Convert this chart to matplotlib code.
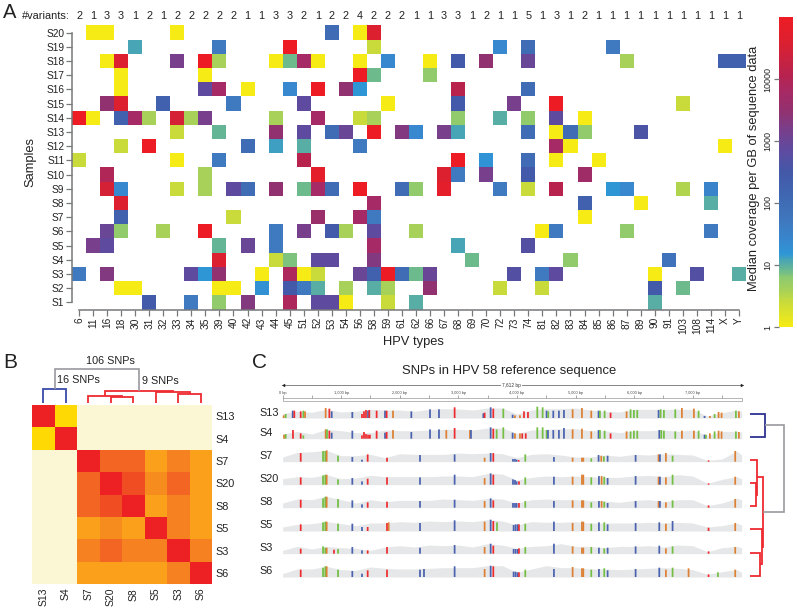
import numpy as np
import matplotlib
matplotlib.use('Agg')
import matplotlib.pyplot as plt
from matplotlib.colors import LinearSegmentedColormap, LogNorm

plt.rcParams['font.family'] = ['Liberation Sans', 'DejaVu Sans']
W, H = 797, 609

# ---------- Panel A data ----------
hpv_types = ['6','11','16','18','30','31','32','33','34','35','39','40','42','43','44','45','51','52','53','54','56','58',
             '59','61','62','66','67','68','69','70','72','73','74','81','82','83','84','85','86','87','89','90','91',
             '103','108','114','X','Y']
n_variants = [2,1,3,3,1,2,1,2,2,2,2,2,1,1,3,3,2,1,2,2,4,2,2,2,1,1,3,3,1,2,1,1,5,1,3,1,2,1,1,1,1,1,1,1,1,1,1,1]
samples = ['S1','S2','S3','S4','S5','S6','S7','S8','S9','S10','S11','S12','S13','S14','S15','S16','S17','S18','S19','S20']
# (index into hpv_types, median coverage)
S20 = [(1,1),(2,1),(7,1),(18,100),(20,1),(21,40000)]
S19 = [(4,12),(10,50),(15,100000),(21,2.5),(30,25),(32,100),(38,50)]
S18 = [(2,1),(3,40000),(7,1500),(9,100000),(10,4),(14,1),(15,8),(16,6000),(17,1),(20,1),(22,25),(25,1),(27,300),(29,3000),(32,1000),(39,4),(46,200),(47,200)]
S17 = [(3,1),(9,1),(20,100000),(21,8),(25,6)]
S16 = [(3,1),(9,700),(10,6000),(12,1),(15,25),(17,100000),(19,3000),(20,15),(27,12000),(32,100)]
S15 = [(2,3000),(3,40000),(6,200),(11,50),(16,700),(22,1),(27,300),(31,1500),(34,100000),(43,2.5)]
S14 = [(0,100000),(1,1),(3,200),(4,6000),(5,4),(7,30000),(8,4),(9,1500),(14,4),(17,6000),(20,2.5),(21,4),(27,6),(30,10),(32,6),(34,700),(36,1)]
S13 = [(7,2.5),(10,9),(14,3000),(16,700),(18,100),(19,1000),(21,100000),(23,2000),(24,25),(26,1500),(27,12),(32,100),(34,1),(35,100),(36,6),(40,400)]
S12 = [(3,2.5),(5,100000),(12,100),(14,13),(16,10),(20,50),(34,6000),(35,1),(46,1)]
S11 = [(0,2.5),(7,1),(10,50),(16,12000),(27,100000),(29,17),(32,100),(34,1),(37,1)]
S10 = [(2,9000),(9,4),(17,60000),(26,40000),(27,50),(29,1500),(32,300),(36,5000)]
S9 = [(2,30000),(3,25),(7,2.5),(9,4),(11,700),(12,100),(14,3000),(16,8),(17,6000),(18,100),(20,100000),(23,100),(24,6),(26,60000),(30,50),(32,2.5),(34,12000),(38,15),(39,25),(43,3.5),(45,30)]
S8 = [(3,40000),(21,6000),(36,200),(40,1),(45,10)]
S7 = [(3,200),(11,2.5),(17,4000),(20,6000),(21,50),(36,1)]
S6 = [(2,1000),(3,6),(6,4),(9,100000),(14,50),(16,1500),(18,300),(19,4),(21,700),(24,4),(33,1),(34,50),(39,6),(45,50)]
S5 = [(1,1500),(2,700),(10,9),(12,1000),(14,50),(21,6000),(27,12),(32,500)]
S4 = [(10,40000),(14,2.5),(15,7),(17,700),(18,700),(21,2000),(28,8),(35,6),(42,70)]
S3 = [(0,50),(2,2000),(8,700),(9,15),(10,3000),(13,1),(15,8000),(16,1),(17,2.5),(20,1000),(21,200),(22,100000),(23,100),(24,8),(25,1000),(31,500),(33,50),(34,700),(41,1),(44,500),(47,10)]
S2 = [(3,1),(4,1),(10,1),(11,1),(13,18),(15,300),(16,50),(17,10),(19,4),(21,10),(22,4),(25,3000),(30,2.5),(33,2.5),(41,300),(43,8)]
S1 = [(5,300),(8,50),(10,6),(12,2000),(15,8000),(17,700),(18,700),(19,1),(22,2.5),(24,10),(41,10)]
cells_by_sample = [S1,S2,S3,S4,S5,S6,S7,S8,S9,S10,S11,S12,S13,S14,S15,S16,S17,S18,S19,S20]

# ---------- Panel B data ----------
order_b = ['S13','S4','S7','S20','S8','S5','S3','S6']
similarity = [
    [1.00,0.30,0,0,0,0,0,0],
    [0.30,1.00,0,0,0,0,0,0],
    [0,0,1.00,0.80,0.80,0.55,0.70,0.55],
    [0,0,0.80,1.00,0.88,0.65,0.80,0.55],
    [0,0,0.80,0.88,1.00,0.55,0.70,0.55],
    [0,0,0.55,0.65,0.55,1.00,0.70,0.55],
    [0,0,0.70,0.80,0.70,0.70,1.00,0.70],
    [0,0,0.55,0.55,0.55,0.55,0.70,1.00]]
# dendrogram trees: (left, right, merge height, colour)
BLUE, RED, GREY = '#3A4BA8', '#EE2A30', '#9A9A9E'
tree_b = ((0,1,13.7,BLUE),
          ((2,(3,4,5.7,RED),7.3,RED),(5,(6,7,8.7,RED),10.7,RED),12.3,RED),
          34,GREY)
tree_c = ((0,1,15,'#2E3192'),
          ((2,(3,4,6,RED),7.3,RED),(5,(6,7,9.7,RED),12,RED),13.3,RED),
          34,GREY)

# ---------- Panel C data ----------
ruler_ticks = [1000,2000,3000,4000,5000,6000,7000]
cov_bp = [0,250,500,750,1000,1250,1500,1750,2000,2250,2500,2750,3000,3250,3500,3750,4000,4250,4500,4750,5000,5250,5500,5750,6000,6250,6500,6750,7000,7250,7500,7750,7834]
cov = {
 'S13':[14,20,17,26,18,20,26,24,24,20,26,28,27,24,30,30,12,24,28,28,30,24,20,18,26,26,26,26,26,6,16,24,20],
 'S4': [14,22,14,28,24,18,18,26,24,24,26,28,28,26,32,32,16,26,28,30,30,24,24,18,24,24,26,22,26,10,22,22,20],
 'S7': [14,28,30,34,18,18,22,12,24,22,22,22,26,24,26,24,12,22,24,20,14,14,20,16,22,20,24,22,20,4,8,32,20],
 'S20':[18,24,22,30,18,20,28,24,24,24,24,26,26,24,34,32,14,22,26,24,26,24,22,22,26,28,24,30,26,4,16,24,18],
 'S8': [14,26,24,34,24,14,24,18,22,22,22,26,24,22,28,26,14,24,26,24,24,22,20,16,22,24,18,24,24,6,14,28,24],
 'S5': [12,20,22,28,22,16,24,24,28,26,30,28,30,28,34,30,18,28,26,26,28,24,24,24,24,26,24,26,24,12,16,24,18],
 'S3': [10,22,14,22,18,16,10,20,24,20,26,24,26,20,30,26,16,22,24,30,22,22,18,22,22,24,20,26,24,6,18,22,18],
 'S6': [10,24,24,32,22,20,30,26,24,24,26,28,28,28,34,34,14,24,34,28,28,24,24,22,24,26,28,26,22,8,16,22,14]}
# SNPs: (position bp, height, base code)
snp = {
 'S13':[(18,8,'o'),(53,12,'g'),(172,22,'b'),(200,22,'r'),(309,20,'r'),(354,22,'g'),(383,20,'o'),(735,30,'o'),(798,28,'r'),(838,20,'b'),
        (1190,18,'b'),(1355,12,'r'),(1389,20,'r'),(1423,24,'r'),(1458,22,'b'),(1480,24,'r'),(1605,22,'r'),(1748,22,'b'),(1776,22,'r'),(1884,22,'o'),
        (2197,20,'b'),(2516,26,'b'),(2669,26,'b'),(2936,32,'r'),(3426,14,'b'),(3448,16,'r'),(3551,32,'b'),(3596,28,'r'),(3767,28,'g'),(3926,10,'b'),
        (3966,8,'o'),(4051,8,'o'),(4120,20,'r'),(4188,18,'r'),(4347,34,'g'),(4438,32,'g'),(4506,22,'b'),(4534,20,'g'),(4620,22,'b'),(4716,22,'b'),(4802,24,'b'),
        (4950,26,'o'),(5109,30,'o'),(5268,22,'o'),(5393,22,'b'),(5416,22,'g'),(5496,22,'g'),(5598,16,'r'),(5871,20,'o'),(5939,26,'g'),(5996,24,'g'),(6053,24,'g'),
        (6417,24,'b'),(6451,26,'g'),(6508,24,'g'),(6702,26,'g'),(6815,30,'o'),(7020,28,'o'),(7100,22,'g'),(7202,6,'b'),(7293,6,'o'),(7373,12,'g'),(7441,18,'o'),(7492,16,'o'),(7737,22,'g'),(7788,20,'o')],
 'S4': [(24,12,'o'),(53,14,'g'),(177,26,'r'),(309,16,'r'),(354,10,'g'),(735,28,'o'),(758,28,'g'),(798,24,'r'),(838,18,'b'),
        (1190,24,'b'),(1355,10,'r'),(1389,20,'r'),(1423,14,'r'),(1458,12,'r'),(1490,12,'r'),(1605,24,'r'),(1748,18,'b'),(1776,20,'r'),(1884,26,'o'),
        (2197,20,'b'),(2516,28,'b'),(2669,28,'b'),(2794,26,'o'),(2936,32,'r'),(3198,26,'o'),(3215,26,'b'),(3551,34,'b'),(3596,30,'r'),(3653,28,'g'),(3767,34,'g'),(3926,18,'b'),
        (3966,16,'o'),(4051,16,'o'),(4090,16,'r'),(4150,16,'r'),(4347,34,'g'),(4438,34,'g'),(4506,26,'g'),(4529,26,'b'),(4620,26,'b'),(4716,26,'b'),(4802,32,'b'),
        (4950,28,'o'),(5109,30,'o'),(5268,22,'o'),(5393,26,'b'),(5416,26,'g'),(5496,24,'g'),(5598,16,'r'),(5871,22,'o'),(5939,22,'g'),(5996,24,'g'),(6053,24,'g'),
        (6429,26,'b'),(6463,26,'g'),(6508,24,'g'),(6702,22,'g'),(6815,24,'o'),(7020,24,'o'),(7100,24,'g'),(7202,12,'b'),(7225,12,'g'),(7293,16,'o'),(7373,22,'g'),(7441,24,'o'),(7492,22,'o'),(7737,22,'g'),(7788,20,'o')],
 'S7': [(309,26,'r'),(690,32,'g'),(729,32,'g'),(752,34,'o'),(946,18,'g'),(1190,14,'b'),(1355,6,'b'),(1452,22,'r'),(1782,12,'r'),(2345,20,'b'),(2936,22,'b'),
        (3448,12,'o'),(3551,26,'b'),(3596,26,'r'),(3932,8,'b'),(3966,8,'b'),(3994,6,'b'),(4029,5,'r'),(4142,22,'g'),(4631,14,'b'),(4950,12,'o'),(5109,12,'o'),(5132,12,'o'),
        (5268,10,'g'),(5393,20,'b'),(5439,18,'o'),(5484,16,'g'),(5547,18,'b'),(6025,20,'b'),(6417,22,'o'),(6440,22,'b'),(6542,26,'o'),(6656,18,'g'),(7270,4,'r'),(7725,32,'o')],
 'S20':[(309,22,'r'),(690,28,'g'),(729,30,'g'),(752,30,'o'),(946,16,'g'),(1190,20,'b'),(1355,10,'b'),(1452,18,'r'),(1782,22,'r'),(2345,22,'b'),(2936,30,'b'),
        (3448,20,'o'),(3551,34,'b'),(3596,30,'r'),(3932,16,'b'),(3966,14,'b'),(3994,10,'b'),(4034,10,'r'),(4142,22,'g'),(4631,24,'b'),(4950,24,'o'),(5109,30,'o'),(5132,30,'o'),
        (5268,22,'g'),(5399,26,'b'),(5445,26,'o'),(5490,24,'g'),(5547,20,'b'),(6025,26,'b'),(6417,24,'o'),(6440,24,'b'),(6542,22,'o'),(6656,30,'g'),(7270,4,'r'),(7725,24,'o')],
 'S8': [(309,24,'r'),(690,28,'g'),(729,33,'g'),(752,33,'o'),(946,26,'g'),(1190,22,'b'),(1355,10,'b'),(1452,16,'r'),(1782,18,'r'),(2345,20,'b'),(2936,24,'b'),
        (3448,20,'o'),(3551,28,'b'),(3596,22,'r'),(3932,14,'b'),(3966,14,'b'),(3994,14,'b'),(4034,14,'r'),(4142,20,'g'),(4631,20,'b'),(4950,22,'o'),(5109,22,'o'),(5132,22,'o'),
        (5268,16,'g'),(5399,20,'b'),(5445,20,'o'),(5490,18,'g'),(5547,14,'b'),(6025,20,'b'),(6417,20,'o'),(6440,20,'b'),(6542,16,'o'),(6656,22,'g'),(7270,7,'r'),(7725,26,'o')],
 'S5': [(309,20,'r'),(690,26,'g'),(729,28,'g'),(752,28,'o'),(946,22,'g'),(1190,22,'b'),(1355,12,'b'),(1452,12,'r'),(1782,24,'r'),(1810,26,'o'),(2345,24,'b'),(2936,32,'b'),
        (3448,28,'o'),(3551,34,'b'),(3596,30,'r'),(3659,26,'g'),(3943,18,'b'),(3977,20,'b'),(4011,20,'b'),(4034,20,'r'),(4142,22,'g'),(4631,28,'b'),(4950,24,'o'),(5109,28,'o'),(5132,28,'o'),
        (5268,22,'g'),(5399,26,'b'),(5490,26,'g'),(5547,20,'b'),(6025,24,'b'),(6429,26,'b'),(6542,22,'o'),(6656,30,'b'),(7270,10,'r'),(7725,24,'o')],
 'S3': [(309,15,'r'),(690,22,'g'),(729,18,'g'),(752,18,'o'),(877,12,'r'),(946,14,'g'),(1190,20,'b'),(1355,10,'b'),(1452,10,'r'),(1782,20,'r'),(2345,18,'b'),(2936,26,'b'),
        (3448,20,'o'),(3551,30,'b'),(3596,24,'r'),(3943,14,'b'),(3977,14,'b'),(4011,14,'b'),(4034,16,'r'),(4142,20,'g'),(4631,30,'b'),(4950,22,'o'),(5109,18,'o'),(5132,18,'o'),
        (5268,20,'g'),(5399,18,'b'),(5490,16,'g'),(5547,18,'b'),(6025,22,'b'),(6429,24,'b'),(6542,16,'o'),(6656,22,'g'),(7270,7,'r'),(7725,20,'o')],
 'S6': [(309,22,'r'),(690,28,'g'),(729,32,'g'),(752,32,'o'),(946,22,'g'),(1190,18,'b'),(1355,10,'b'),(1452,20,'r'),(1782,22,'r'),(2345,22,'b'),(2413,24,'b'),(2936,32,'b'),
        (3448,24,'o'),(3551,34,'b'),(3596,32,'r'),(3943,16,'b'),(3977,16,'b'),(4011,14,'b'),(4034,14,'r'),(4142,22,'g'),(4631,24,'b'),(4950,30,'o'),(5109,26,'o'),(5132,26,'o'),
        (5268,22,'g'),(5399,24,'b'),(5490,26,'g'),(5547,20,'b'),(6025,24,'b'),(6429,28,'b'),(6542,22,'o'),(6656,28,'g'),(6929,26,'o'),(7270,8,'r'),(7430,14,'g'),(7725,22,'o')],
}
base_colours = {'r':'#EE2C30','b':'#4A62B0','g':'#72BF44','o':'#DD8033'}

# ---------- helpers ----------
fig = plt.figure(figsize=(W/100, H/100), dpi=100)
def px_axes(l, t, r, b, **kw):
    return fig.add_axes([l/W, 1-b/H, (r-l)/W, (b-t)/H], **kw)
def ftext(x, y, s, **kw):
    kw.setdefault('ha', 'center'); kw.setdefault('va', 'center')
    return fig.text(x/W, 1-y/H, s, **kw)

AX = '#77787B'
TXT = '#222222'

# ---------- Panel A ----------
cov_cmap = LinearSegmentedColormap.from_list('cov', [
    (0.00,'#F6EB14'),(0.08,'#C8DB3C'),(0.12,'#A5D05A'),(0.156,'#8FCB6E'),(0.18,'#6DBB8C'),(0.20,'#58ADA5'),
    (0.216,'#48A5B5'),(0.235,'#2F96D6'),(0.28,'#3787CE'),(0.34,'#3F78BE'),(0.40,'#3F6CB5'),(0.50,'#4358A8'),
    (0.57,'#5F4BA0'),(0.636,'#783F8C'),(0.70,'#93316E'),(0.756,'#A52A65'),(0.816,'#B8234E'),(0.92,'#DC2030'),(1.00,'#ED1C24')])
cov_cmap.set_bad('white')
norm = LogNorm(1, 1e5)
grid = np.full((len(samples), len(hpv_types)), np.nan)
for r, cells in enumerate(cells_by_sample):
    for c, v in cells:
        grid[r, c] = v
axA = px_axes(72, 25.4, 746, 309.5)
mesh = axA.pcolormesh(np.arange(len(hpv_types)+1)-0.5, np.arange(len(samples)+1)-0.5,
                      np.ma.masked_invalid(grid), cmap=cov_cmap, norm=norm)
axA.set_xlim(-0.5, len(hpv_types)-0.5); axA.set_ylim(-0.5, len(samples)-0.5)
axA.set_xticks(range(len(hpv_types))); axA.set_xticklabels(hpv_types, rotation=90, fontsize=7.3, color=TXT)
axA.set_yticks(range(len(samples))); axA.set_yticklabels(samples, fontsize=7.3, color=TXT)
axA.tick_params(axis='both', length=4, width=0.9, color=AX, pad=1.5)
for s in ['top','right']:
    axA.spines[s].set_visible(False)
for s in ['left','bottom']:
    axA.spines[s].set_color(AX); axA.spines[s].set_linewidth(1.1)
axA.spines['left'].set_bounds(0, len(samples)-1)
axA.spines['bottom'].set_bounds(0, len(hpv_types)-1)
variant_y = 1 + (25.4-16)/(309.5-25.4)
for i, n in enumerate(n_variants):
    axA.text(i, variant_y, str(n), transform=axA.get_xaxis_transform(), ha='center', va='center',
             fontsize=7.8, color=TXT, clip_on=False)
ftext(22, 16, '#variants:', ha='left', fontsize=7.9, color=TXT)
ftext(30, 162, 'Samples', rotation=90, fontsize=9.3, color=TXT)
ftext(413.5, 342, 'HPV types', fontsize=9.3, color=TXT)
ftext(3, 12, 'A', ha='left', fontsize=14.5, color=TXT)

cax = px_axes(779, 17, 793, 327)
cb = fig.colorbar(mesh, cax=cax, ticks=[1,10,100,1000,10000])
cb.ax.minorticks_off()
cb.outline.set_visible(False)
cb.ax.yaxis.set_ticks_position('left')
cb.ax.set_yticklabels(['1','10','100','1000','10000'], rotation=90, va='center', fontsize=6.5, color=TXT)
cb.ax.tick_params(length=3.6, width=0.9, color=AX, pad=1.5)
ftext(754, 168, 'Median coverage per GB of sequence data', rotation=90, fontsize=9.3, color=TXT)

# ---------- Panel B ----------
sim_cmap = LinearSegmentedColormap.from_list('sim', [
    (0.0,'#FBF7D5'),(0.15,'#FBF7D5'),(0.30,'#FFD900'),(0.55,'#FAA01A'),(0.70,'#F58220'),(0.80,'#F26522'),(0.88,'#F04E23'),(1.0,'#ED2024')])
axB = px_axes(32, 405, 212, 584.3)
axB.pcolormesh(np.arange(9), np.arange(9), np.array(similarity), cmap=sim_cmap, vmin=0, vmax=1)
axB.set_xlim(0, 8); axB.set_ylim(8, 0)
axB.set_xticks(np.arange(8)+0.5); axB.set_xticklabels(order_b, rotation=90, fontsize=7.5, color=TXT)
axB.yaxis.tick_right()
axB.set_yticks(np.arange(8)+0.5); axB.set_yticklabels(order_b, fontsize=7.8, color=TXT)
axB.tick_params(length=0, pad=2.5)
for s in axB.spines.values():
    s.set_visible(False)

def draw_tree(ax, node, horizontal=False):
    """node = leaf index or (left, right, height, colour); returns (pos, height)."""
    if not isinstance(node, tuple):
        return node + 0.5, 0
    lp, lh = draw_tree(ax, node[0], horizontal)
    rp, rh = draw_tree(ax, node[1], horizontal)
    h, col = node[2], node[3]
    a, b = [lp, lp, rp, rp], [lh, h, h, rh]
    lw = 1.2 if col == GREY else 1.3
    if horizontal:
        ax.plot(b, a, color=col, lw=lw, solid_joinstyle='miter', solid_capstyle='butt', clip_on=False)
    else:
        ax.plot(a, b, color=col, lw=lw, solid_joinstyle='miter', solid_capstyle='butt', clip_on=False)
    return (lp + rp) / 2, h

axBd = px_axes(32, 363, 212, 403)
axBd.set_xlim(0, 8); axBd.set_ylim(0, 40); axBd.axis('off')
draw_tree(axBd, tree_b)
ftext(110, 361.5, '106 SNPs', fontsize=7.8, color=TXT)
ftext(57.3, 380, '16 SNPs', ha='left', fontsize=7.8, color=TXT)
ftext(142, 381, '9 SNPs', ha='left', fontsize=7.8, color=TXT)
ftext(3, 363, 'B', ha='left', fontsize=15, color=TXT)

# ---------- Panel C ----------
ftext(252, 363, 'C', ha='left', fontsize=15, color=TXT)
ftext(509, 371, 'SNPs in HPV 58 reference sequence', fontsize=9.4, color=TXT)
axR = px_axes(282.6, 380, 741.6, 402)
axR.set_xlim(0, 7834); axR.set_ylim(402, 380); axR.axis('off')
axR.plot([0, 7834], [385, 385], color='#555555', lw=0.5, clip_on=False)
axR.plot([0], [385], marker='<', ms=2.5, color='#222222', mew=0, clip_on=False)
axR.plot([7834], [385], marker='>', ms=2.5, color='#222222', mew=0, clip_on=False)
axR.text(3900, 385, '7,612 bp', ha='center', va='center', fontsize=3.4, color='#333333',
         bbox=dict(fc='white', ec='none', pad=0.8))
axR.vlines(np.arange(0, 8000, 500), 395, 398.3, color='#888888', lw=0.5)
axR.plot([0, 7834, 7834, 0, 0], [398.3, 398.3, 401, 401, 398.3], color='#999999', lw=0.5, clip_on=False)
axR.text(0, 392.7, '0 bp', ha='center', va='center', fontsize=2.8, color='#444444')
for t in ruler_ticks:
    axR.text(t, 392.7, f'{t:,} bp', ha='center', va='center', fontsize=2.8, color='#444444')

track_samples = ['S13','S4','S7','S20','S8','S5','S3','S6']
track_base = [418, 438.7, 461.7, 484.7, 507.7, 531, 553.7, 577]
for name, base in zip(track_samples, track_base):
    ax = px_axes(282.6, base-12, 741.6, base)
    ax.set_xlim(0, 7834); ax.set_ylim(0, 36); ax.axis('off')
    ax.fill_between(cov_bp, cov[name], 0, color='#E6E7E8', lw=0)
    pos = [p for p, _, _ in snp[name]]
    hts = [h for _, h, _ in snp[name]]
    cols = [base_colours[c] for _, _, c in snp[name]]
    bars = ax.bar(pos, hts, width=30, color=cols, lw=0, clip_on=False)
    for b in bars:
        b.set_snap(False)
    ftext(259.3, base-5.5, name, ha='left', fontsize=7.8, color=TXT)

axCd = px_axes(750, 413.7-11.6, 784, 575.7+11.6)
axCd.set_xlim(0, 34); axCd.set_ylim(8, 0); axCd.axis('off')
draw_tree(axCd, tree_c, horizontal=True)

fig.savefig('out.png', dpi=100)
